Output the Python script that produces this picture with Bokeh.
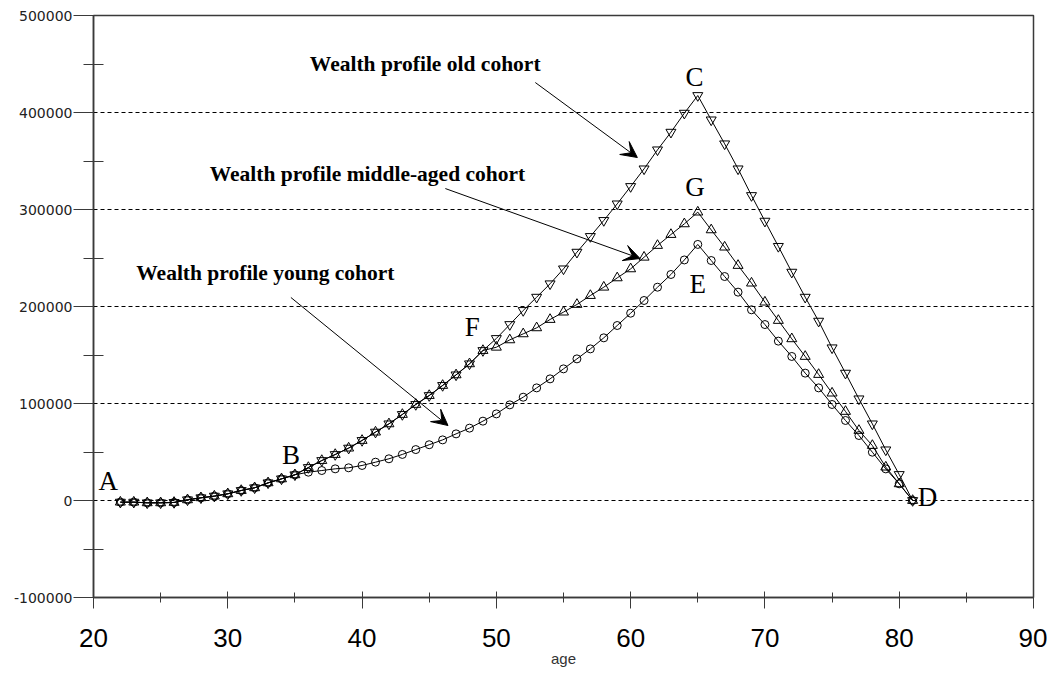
from bokeh.plotting import figure
from bokeh.models import Arrow, VeeHead, Label, FixedTicker, Range1d, NumeralTickFormatter
from bokeh.embed import file_html
from bokeh.resources import INLINE

# ---------------- data ----------------
age = list(range(22, 82))

old_cohort = [
    -1700, -1700, -2400, -2400, -2000, 700, 2800, 4500, 6900, 10300, 13100, 18200, 22300, 26500,  # 22-35
    34000, 41200, 47400, 54000, 61900, 70500, 79000, 88700, 99000, 108200, 118600, 129500, 140900, 154600,  # 36-49
    167000, 181400, 195900, 209600, 223400, 238800, 256000,  # 50-56
    272200, 288700, 305800, 323700, 341900, 361500, 379700, 399300, 417500,  # 57-65
    392400, 367700, 341900, 314400, 288000, 262000,  # 66-71
    235400, 209600, 184900, 157400, 131300, 104800, 79000, 52200, 26800, 0,  # 72-81
]

middle_cohort = [
    -1700, -1700, -2400, -2400, -2000, 700, 2800, 4500, 6900, 10300, 13100, 18200, 22300, 26500,  # 22-35
    34000, 41200, 47400, 54000, 61900, 70500, 79000, 88700, 99000, 108200, 118600, 129500, 140900, 154600,  # 36-49
    158000, 165600, 171800, 178000, 186600, 194200, 202100,  # 50-56
    211300, 219900, 229500, 238800, 250800, 262900, 274200, 285200, 297300,  # 57-65
    279000, 261200, 242300, 224100, 204500, 185600,  # 66-71
    166700, 148500, 129900, 110700, 91800, 72200, 56700, 34400, 17200, 0,  # 72-81
]

young_cohort = [
    -1700, -1700, -2400, -2400, -2000, 700, 2800, 4500, 6900, 10300, 13100, 18200, 22300, 26500,  # 22-35
    29200, 30900, 32650, 33700, 36100, 39500, 43000, 47500, 52500, 57500, 62500, 68700, 74600, 81800,  # 36-49
    89300, 98600, 106500, 116100, 125400, 135700, 146000,  # 50-56
    156300, 167700, 180400, 193100, 206200, 219900, 233000, 248000, 264000,  # 57-65
    247400, 230900, 214800, 196600, 181400, 164300,  # 66-71
    148500, 131300, 116100, 99000, 82500, 67000, 49800, 32600, 17200, 0,  # 72-81
]

x_ticks = [20, 30, 40, 50, 60, 70, 80, 90]
x_minor = [25, 35, 45, 55, 65, 75, 85]
y_ticks = [-100000, 0, 100000, 200000, 300000, 400000, 500000]
y_minor = [-50000, 50000, 150000, 250000, 350000, 450000]
grid_levels = [0, 100000, 200000, 300000, 400000]

series_labels = ["Wealth profile old cohort", "Wealth profile middle-aged cohort", "Wealth profile young cohort"]
point_labels = ["A", "B", "C", "D", "E", "F", "G"]

# ---------------- figure ----------------
p = figure(
    frame_width=940, frame_height=582,
    min_border_left=93, min_border_right=14, min_border_top=15, min_border_bottom=75,
    x_range=Range1d(20, 90), y_range=Range1d(-100000, 500000),
    output_backend="svg", toolbar_location=None,
    background_fill_color="white", border_fill_color="white",
)
p.outline_line_color = "#3a3a3a"
p.outline_line_width = 1.5

# axes
xa = p.xaxis[0]
xa.ticker = FixedTicker(ticks=x_ticks, minor_ticks=x_minor)
xa.axis_line_color = "#3a3a3a"
xa.axis_line_width = 1.5
xa.major_tick_line_color = "#3a3a3a"
xa.minor_tick_line_color = "#3a3a3a"
xa.major_tick_in = 6
xa.major_tick_out = 11
xa.minor_tick_in = 5
xa.minor_tick_out = 5
xa.major_label_text_font = "Liberation Sans"
xa.major_label_text_font_size = "26px"
xa.major_label_text_color = "black"
xa.major_label_standoff = 20
xa.axis_label = "age"
xa.axis_label_text_font = "Liberation Sans"
xa.axis_label_text_font_size = "15px"
xa.axis_label_text_font_style = "normal"
xa.axis_label_text_color = "#333333"
xa.axis_label_standoff = 0

ya = p.yaxis[0]
ya.ticker = FixedTicker(ticks=y_ticks, minor_ticks=y_minor)
ya.formatter = NumeralTickFormatter(format="0")
ya.axis_line_color = "#3a3a3a"
ya.axis_line_width = 1.5
ya.major_tick_line_color = "#3a3a3a"
ya.minor_tick_line_color = "#3a3a3a"
ya.major_tick_in = 0
ya.major_tick_out = 20
ya.minor_tick_in = 10
ya.minor_tick_out = 10
ya.major_label_text_font = "DejaVu Sans"
ya.major_label_text_font_size = "14px"
ya.major_label_text_color = "#222222"
ya.major_label_standoff = 1

p.xgrid.visible = False
p.ygrid.ticker = FixedTicker(ticks=grid_levels)
p.ygrid.grid_line_color = "black"
p.ygrid.grid_line_dash = "4 3"
p.ygrid.grid_line_width = 1

# series
p.line(age, old_cohort, line_color="black", line_width=1)
p.line(age, middle_cohort, line_color="black", line_width=1)
p.line(age, young_cohort, line_color="black", line_width=1)

p.scatter(age, young_cohort, marker="circle", size=8, fill_alpha=0, line_color="black", line_width=1)
p.scatter(age, middle_cohort, marker="triangle", size=10, fill_alpha=0, line_color="black", line_width=1)
p.scatter(age, old_cohort, marker="inverted_triangle", size=10, fill_alpha=0, line_color="black", line_width=1)

# annotations (positions in data units)
serif = "Liberation Serif"
text_pos = [(44.7, 450500), (40.4, 337100), (32.8, 235000)]
for t, (tx, ty) in zip(series_labels, text_pos):
    p.add_layout(Label(x=tx, y=ty, text=t, text_font=serif, text_font_size="21.5px",
                       text_font_style="bold",
                       text_align="center", text_baseline="middle", text_color="black"))

letter_pos = [(21.1, 19600), (34.7, 46400), (64.75, 437000), (82.1, 3100),
              (65.0, 223700), (48.2, 178400), (64.8, 323700)]
for t, (lx, ly) in zip(point_labels, letter_pos):
    p.add_layout(Label(x=lx, y=ly, text=t, text_font=serif, text_font_size="27px",
                       text_align="center", text_baseline="middle", text_color="black"))

arrows = [((52.9, 430900), (60.5, 353600)),
          ((46.2, 321600), (60.7, 249500)),
          ((34.7, 209300), (46.4, 77300))]
for (xs, ys), (xe, ye) in arrows:
    p.add_layout(Arrow(end=VeeHead(size=16, fill_color="black", line_color="black"),
                       x_start=xs, y_start=ys, x_end=xe, y_end=ye,
                       line_color="black", line_width=1))

open("out.html", "w").write(file_html(p, INLINE))
